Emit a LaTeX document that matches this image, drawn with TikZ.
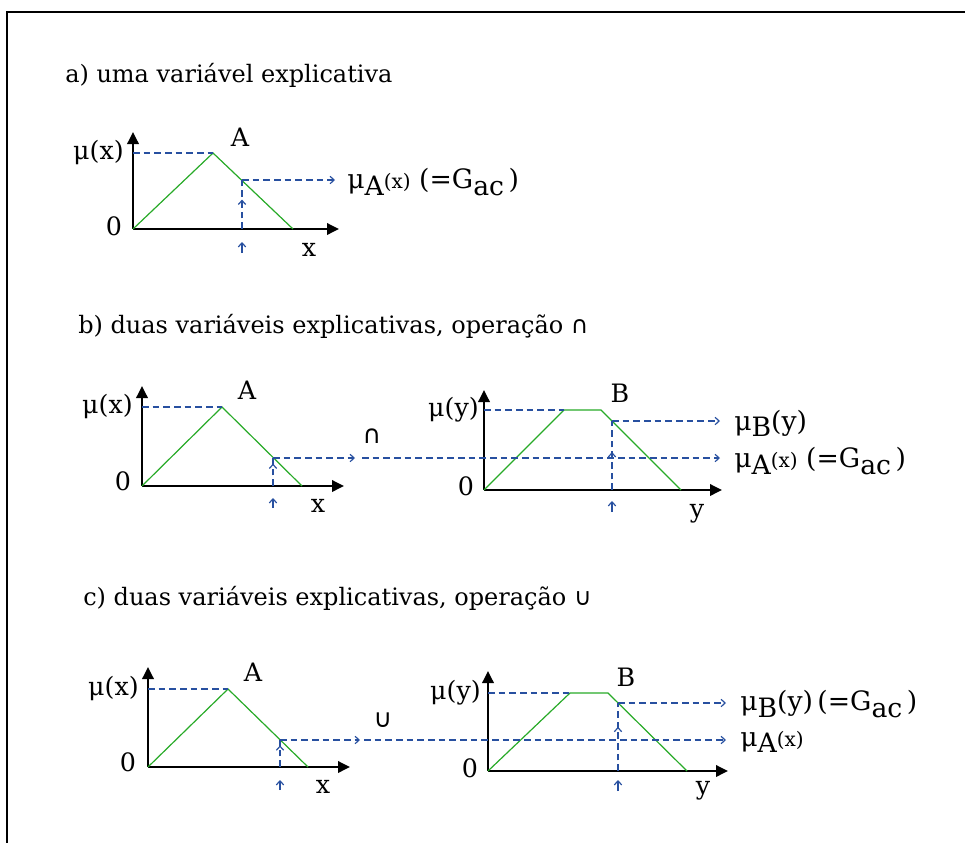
\documentclass[tikz,border=0pt]{standalone}
\usepackage{fontspec}
\setmainfont{DejaVu Serif}
\newfontfamily\opfont{DejaVu Sans}
\usetikzlibrary{arrows.meta,decorations.markings}
\definecolor{guideblue}{RGB}{40,80,160}
\definecolor{mfgreen}{RGB}{40,170,40}
\newcommand{\muof}[2]{μ\raisebox{-0.45ex}{#1}{\fontsize{15}{16}\selectfont(#2)}}
\newcommand{\muB}{μ\raisebox{-0.45ex}{B}(y)}
\newcommand{\gac}{(=G\raisebox{-0.45ex}{ac}\,)}

\begin{document}
\begin{tikzpicture}[x=0.75pt,y=-0.75pt,>=Stealth,
    axisline/.style={line width=1.8pt,-{Triangle[length=9pt,width=8.5pt]}},
    mf/.style={mfgreen,line width=0.9pt},
    guide/.style={guideblue,line width=1.1pt,dash pattern=on 5pt off 3pt},
    guidetip/.style={guideblue,line width=0.9pt,-{Straight Barb[length=3pt,width=5.5pt]}},
    upmark/.style={guide,postaction={decorate},
      decoration={markings,mark=at position #1 with {\arrow[guideblue,line width=0.9pt]{Straight Barb[length=3pt,width=5.5pt]}}}},
    lbl/.style={inner sep=0pt,font=\fontsize{19}{21}\selectfont},
    outlbl/.style={inner sep=0pt,anchor=west,font=\fontsize{20}{22}\selectfont},
    title/.style={inner sep=0pt,anchor=west,font=\fontsize{18}{20}\selectfont}]
  \useasboundingbox (0,0) rectangle (965,843);
  \draw[line width=2pt] (965,12) -- (7,12) -- (7,843);

  % a) one variable
  \node[title] (ta) at (65,75) {a) uma variável explicativa};
  \coordinate (aO) at (133,229);
  \coordinate (aT) at (133,132);
  \coordinate (aX) at (339,229);
  \coordinate (aP) at (213,153);
  \coordinate (aF) at (293,229);
  \coordinate (aQ) at (242,180);
  \coordinate (aQb) at (242,229);
  \coordinate (aE) at (335,180);
  \coordinate (aU) at (242,253);
  \draw[axisline] (aO) -- (aT);
  \draw[axisline] (aO) -- (aX);
  \draw[mf] (aO) -- (aP) -- (aF);
  \draw[guide] (aO |- aP) -- (aP);
  \draw[upmark=0.6] (aQb) -- (aQ);
  \draw[guide,guidetip] (aQ) -- (aE);
  \draw[guidetip] (aU) -- ++(0,-11);
  \node[lbl,anchor=east] (amu) at (124,153) {μ(x)};
  \node[lbl] (azero) at (114,226) {0};
  \node[lbl] (aA) at (240,137) {A};
  \node[lbl] (ax) at (309,250) {x};
  \node[outlbl] (aout) at (347,182) {\muof{A}{x}\ \gac};

  % b) two variables, intersection
  \node[title] (tb) at (78,326) {b) duas variáveis explicativas, operação {\opfont ∩}};
  \coordinate (bO) at (142,486);
  \coordinate (bT) at (142,386);
  \coordinate (bX) at (344,486);
  \coordinate (bP) at (222,407);
  \coordinate (bF) at (302,486);
  \coordinate (bQ) at (273,458);
  \coordinate (bQb) at (273,486);
  \coordinate (bE) at (355,458);
  \coordinate (bU) at (273,508);
  \draw[axisline] (bO) -- (bT);
  \draw[axisline] (bO) -- (bX);
  \draw[mf] (bO) -- (bP) -- (bF);
  \draw[guide] (bO |- bP) -- (bP);
  \draw[upmark=0.8] (bQb) -- (bQ);
  \draw[guide,guidetip] (bQ) -- (bE);
  \draw[guidetip] (bU) -- ++(0,-10);
  \node[lbl,anchor=east] (bmu) at (133,407) {μ(x)};
  \node[lbl] (bzero) at (123,481) {0};
  \node[lbl] (bA) at (247,390) {A};
  \node[lbl] (bx) at (318,506) {x};
  \node[lbl] (bop) at (372,436) {\opfont ∩};
  % trapezoid B
  \coordinate (cO) at (484,490);
  \coordinate (cT) at (484,390);
  \coordinate (cX) at (722,490);
  \coordinate (cP) at (564,410);
  \coordinate (cR) at (601,410);
  \coordinate (cF) at (681,490);
  \coordinate (cQ) at (612,421);
  \coordinate (cQb) at (612,490);
  \coordinate (cE) at (720,421);
  \coordinate (cS) at (362,458);
  \coordinate (cG) at (720,458);
  \coordinate (cU) at (612,512);
  \draw[axisline] (cO) -- (cT);
  \draw[axisline] (cO) -- (cX);
  \draw[mf] (cO) -- (cP) -- (cR) -- (cF);
  \draw[guide] (cO |- cP) -- (cP);
  \draw[upmark=0.55] (cQb) -- (cQ);
  \draw[guide,guidetip] (cQ) -- (cE);
  \draw[guide,guidetip] (cS) -- (cG);
  \draw[guidetip] (cU) -- ++(0,-11);
  \node[lbl,anchor=east] (cmu) at (479,410) {μ(y)};
  \node[lbl] (czero) at (466,486) {0};
  \node[lbl] (cB) at (620,393) {B};
  \node[lbl] (cy) at (697,514) {y};
  \node[outlbl] (cout1) at (734,423) {\muB};
  \node[outlbl] (cout2) at (734,461) {\muof{A}{x}\ \gac};

  % c) two variables, union
  \node[title] (tc) at (83,598) {c) duas variáveis explicativas, operação {\opfont ∪}};
  \coordinate (dO) at (148,767);
  \coordinate (dT) at (148,667);
  \coordinate (dX) at (350,767);
  \coordinate (dP) at (228,689);
  \coordinate (dF) at (308,767);
  \coordinate (dQ) at (280,740);
  \coordinate (dQb) at (280,767);
  \coordinate (dE) at (360,740);
  \coordinate (dU) at (280,790);
  \draw[axisline] (dO) -- (dT);
  \draw[axisline] (dO) -- (dX);
  \draw[mf] (dO) -- (dP) -- (dF);
  \draw[guide] (dO |- dP) -- (dP);
  \draw[upmark=0.8] (dQb) -- (dQ);
  \draw[guide,guidetip] (dQ) -- (dE);
  \draw[guidetip] (dU) -- ++(0,-10);
  \node[lbl,anchor=east] (dmu) at (139,689) {μ(x)};
  \node[lbl] (dzero) at (128,762) {0};
  \node[lbl] (dA) at (253,672) {A};
  \node[lbl] (dx) at (323,787) {x};
  \node[lbl] (dop) at (383,720) {\opfont ∪};
  % trapezoid B
  \coordinate (eO) at (488,771);
  \coordinate (eT) at (488,671);
  \coordinate (eX) at (728,771);
  \coordinate (eP) at (570,693);
  \coordinate (eR) at (608,693);
  \coordinate (eF) at (687,771);
  \coordinate (eQ) at (618,703);
  \coordinate (eQb) at (618,771);
  \coordinate (eE) at (726,703);
  \coordinate (eS) at (364,740);
  \coordinate (eG) at (726,740);
  \coordinate (eU) at (618,791);
  \draw[axisline] (eO) -- (eT);
  \draw[axisline] (eO) -- (eX);
  \draw[mf] (eO) -- (eP) -- (eR) -- (eF);
  \draw[guide] (eO |- eP) -- (eP);
  \draw[upmark=0.65] (eQb) -- (eQ);
  \draw[guide,guidetip] (eQ) -- (eE);
  \draw[guide,guidetip] (eS) -- (eG);
  \draw[guidetip] (eU) -- ++(0,-11);
  \node[lbl,anchor=east] (emu) at (481,693) {μ(y)};
  \node[lbl] (ezero) at (470,768) {0};
  \node[lbl] (eB) at (626,677) {B};
  \node[lbl] (ey) at (703,791) {y};
  \node[outlbl] (eout1) at (740,704) {\muB\,\gac};
  \node[outlbl] (eout2) at (740,742) {\muof{A}{x}};
\end{tikzpicture}
\end{document}
